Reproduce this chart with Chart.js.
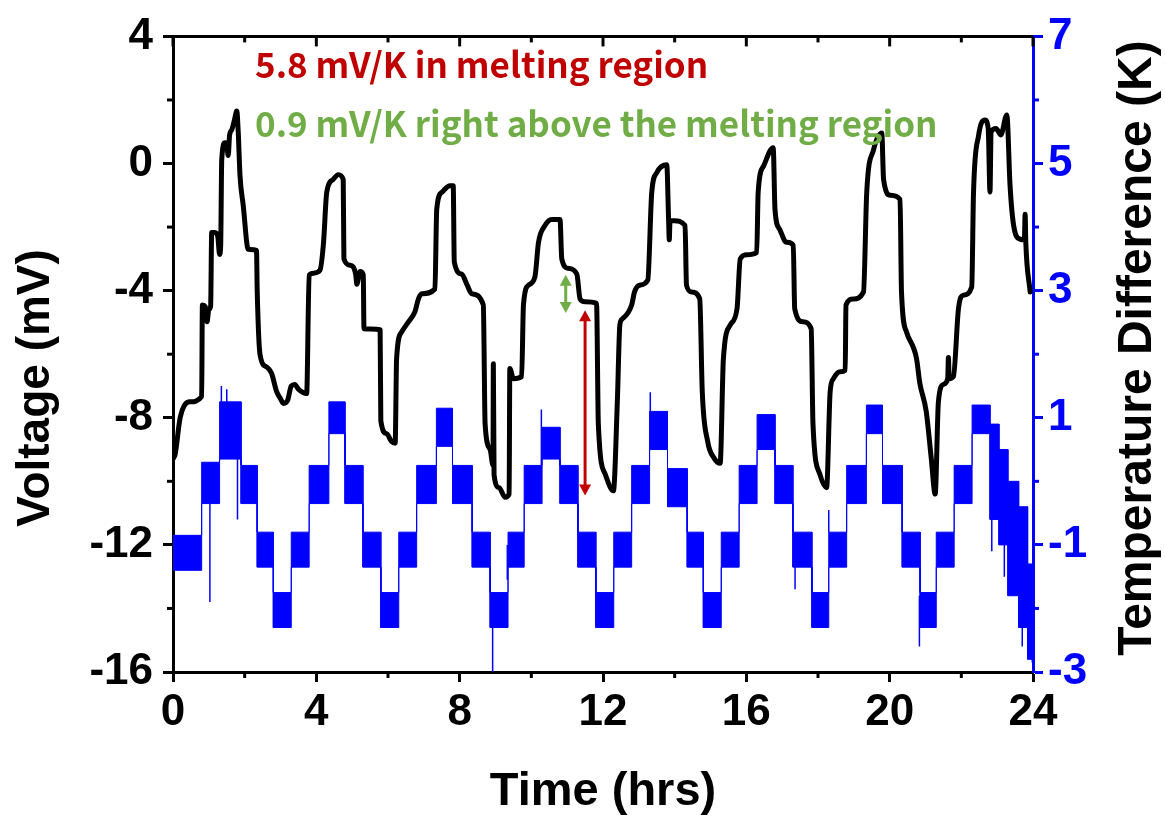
<!DOCTYPE html>
<html>
<head>
<meta charset="utf-8">
<script src="https://cdn.jsdelivr.net/npm/chart.js@4.4.1/dist/chart.umd.min.js"></script>
<style>
  html, body { margin: 0; padding: 0; background: #fff; }
  #wrap { width: 1165px; height: 820px; }
</style>
</head>
<body>
<div id="wrap"><canvas id="myChart" width="1165" height="820"></canvas></div>
<script>
// Voltage trace (black), time in hours, voltage in mV
var voltTime = [0.00, 0.06, 0.20, 0.47, 0.80, 0.82, 0.90, 0.95, 1.00, 1.05, 1.08, 1.17, 1.25, 1.30, 1.33,
    1.36, 1.45, 1.50, 1.54, 1.58, 1.64, 1.72, 1.78, 1.82, 1.87, 1.96, 2.10, 2.33, 2.35, 2.43, 2.61, 2.75,
    2.89, 3.00, 3.08, 3.20, 3.30, 3.40, 3.50, 3.73, 3.80, 3.92, 4.10, 4.20, 4.29, 4.47, 4.61, 4.75, 4.77,
    4.94, 5.10, 5.13, 5.22, 5.31, 5.33, 5.78, 5.80, 5.96, 6.10, 6.20, 6.24, 6.38, 6.57, 6.75, 6.85, 6.94,
    7.31, 7.36, 7.50, 7.73, 7.82, 7.85, 8.06, 8.20, 8.34, 8.66, 8.71, 8.85, 8.93, 8.94, 8.96, 9.10, 9.27,
    9.38, 9.40, 9.50, 9.73, 9.78, 9.92, 10.10, 10.20, 10.38, 10.57, 10.80, 10.85, 11.03, 11.27, 11.36,
    11.50, 11.82, 11.87, 12.06, 12.29, 12.40, 12.47, 12.53, 12.80, 12.88, 13.02, 13.25, 13.36, 13.50,
    13.78, 13.83, 13.85, 13.87, 13.99, 14.29, 14.33, 14.47, 14.70, 14.77, 14.92, 15.10, 15.27, 15.36,
    15.55, 15.74, 15.83, 16.02, 16.29, 16.33, 16.48, 16.75, 16.80, 16.93, 17.12, 17.31, 17.35, 17.58,
    17.81, 17.86, 18.05, 18.24, 18.34, 18.43, 18.62, 18.76, 18.78, 18.99, 19.27, 19.36, 19.55, 19.78,
    19.83, 20.02, 20.29, 20.33, 20.47, 20.75, 20.84, 21.02, 21.16, 21.27, 21.36, 21.50, 21.62, 21.64,
    21.66, 21.78, 21.92, 22.06, 22.29, 22.34, 22.48, 22.66, 22.75, 22.80, 22.83, 22.97, 23.10, 23.27,
    23.36, 23.46, 23.64, 23.76, 23.78, 23.80, 23.92];
var voltValue = [-9.30, -9.15, -8.00, -7.50, -7.33, -4.45, -4.50, -4.98, -4.60, -4.50, -2.17, -2.17, -2.30, -2.86, -2.60,
    0.12, 0.65, 0.60, 0.25, 0.90, 1.06, 1.40, 1.65, 1.00, -0.38, -1.32, -2.70, -2.73, -4.00, -6.02, -6.40, -6.60,
    -7.17, -7.40, -7.55, -7.45, -7.00, -6.95, -7.10, -7.24, -3.51, -3.45, -3.36, -2.50, -0.91, -0.50, -0.35, -0.50, -3.00,
    -3.20, -3.50, -3.80, -3.40, -3.50, -5.20, -5.23, -8.10, -8.50, -8.75, -8.80, -6.14, -5.30, -4.98, -4.67, -4.26, -4.10,
    -3.95, -1.45, -0.91, -0.70, -0.70, -3.10, -3.48, -3.80, -4.10, -4.45, -8.20, -9.00, -9.50, -6.30, -9.80, -10.20, -10.50,
    -10.40, -6.45, -6.77, -6.70, -4.45, -3.83, -3.57, -2.48, -1.95, -1.76, -1.76, -3.00, -3.30, -3.48, -4.26,
    -4.35, -4.40, -8.20, -9.77, -10.30, -7.50, -5.08, -4.90, -4.45, -4.04, -3.83, -3.67, -0.91, -0.29,
    -0.04, -1.76, -2.40, -1.80, -1.80, -1.95, -3.83, -4.04, -4.26, -7.17, -8.74, -9.27, -9.43, -6.14,
    -5.08, -4.57, -3.00, -2.87, -2.80, -0.91, -0.08, 0.50, -1.45, -2.07, -2.48, -2.57, -4.57, -4.98,
    -5.20, -8.20, -9.77, -10.20, -7.17, -6.77, -6.55, -6.50, -4.45, -4.26, -4.04, -0.91, 0.43, 0.96,
    -0.50, -1.00, -1.13, -4.04, -5.30, -6.14, -6.90, -7.80, -9.27, -10.40, -7.50, -6.95, -6.77, -6.10,
    -6.77, -6.70, -4.57, -4.14, -3.89, -0.91, 0.87, 1.37, 1.10, -0.90, 1.00, 1.10, 0.90, 1.53,
    -0.70, -1.95, -2.38, -2.40, -1.60, -2.50, -4.04];

// Temperature difference plateaus (blue band): start/end in hours, upper/lower edge in K
var tempStart = [0.00, 0.80, 1.30, 1.90, 2.35, 2.80, 3.30, 3.80, 4.35, 4.80, 5.30, 5.80, 6.30, 6.80, 7.35, 7.80,
    8.35, 8.85, 9.35, 9.80, 10.30, 10.80, 11.30, 11.80, 12.30, 12.80, 13.30, 13.80, 14.35, 14.80, 15.30, 15.80,
    16.30, 16.80, 17.30, 17.83, 18.30, 18.80, 19.35, 19.80, 20.35, 20.85, 21.30, 21.80, 22.30, 22.80, 23.05,
    23.30, 23.60, 23.85];
var tempEnd = [0.80, 1.30, 1.90, 2.35, 2.80, 3.30, 3.80, 4.35, 4.80, 5.30, 5.80, 6.30, 6.80, 7.35, 7.80, 8.35,
    8.85, 9.35, 9.80, 10.30, 10.80, 11.30, 11.80, 12.30, 12.80, 13.30, 13.80, 14.35, 14.80, 15.30, 15.80, 16.30,
    16.80, 17.30, 17.83, 18.30, 18.80, 19.35, 19.80, 20.35, 20.85, 21.30, 21.80, 22.30, 22.80, 23.05, 23.30,
    23.60, 23.85, 24.00];
var tempHigh = [-0.85, 0.30, 1.25, 0.25, -0.80, -1.75, -0.80, 0.25, 1.25, 0.25, -0.80, -1.75, -0.80, 0.25, 1.15, 0.25,
    -0.80, -1.75, -0.80, 0.25, 0.85, 0.25, -0.80, -1.75, -0.80, 0.25, 1.10, 0.20, -0.80, -1.75, -0.80, 0.25,
    1.05, 0.25, -0.80, -1.75, -0.80, 0.25, 1.20, 0.25, -0.80, -1.75, -0.80, 0.25, 1.20, 0.90, 0.50,
    0.00, -0.40, -1.30];
var tempLow = [-1.40, -0.35, 0.35, -0.35, -1.35, -2.30, -1.35, -0.35, 0.75, -0.35, -1.35, -2.30, -1.35, -0.35, 0.55, -0.35,
    -1.35, -2.30, -1.35, -0.35, 0.35, -0.35, -1.35, -2.30, -1.35, -0.35, 0.50, -0.40, -1.35, -2.30, -1.35, -0.35,
    0.50, -0.35, -1.35, -2.30, -1.35, -0.35, 0.75, -0.35, -1.35, -2.30, -1.35, -0.35, 0.75, -0.60, -1.00,
    -1.80, -2.30, -2.80];

// Isolated spikes in the temperature trace
var spikeTime = [1.03, 1.35, 1.50, 1.80, 8.92, 9.33, 10.28, 13.32, 17.36, 18.30, 20.83, 22.85, 23.20, 23.70, 23.98];
var spikeFrom = [-0.30, 1.00, 1.00, 0.40, -2.00, -1.00, 0.20, 1.00, -1.30, -0.80, -1.80, -0.50, -0.90, -2.00, -2.40];
var spikeTo = [-1.90, 1.50, 1.45, -0.60, -3.00, -1.55, 1.13, 1.40, -1.70, -0.45, -2.60, -1.10, -1.50, -2.60, -2.85];

// Axis ticks
var timeTicks = [0, 4, 8, 12, 16, 20, 24];
var timeMinor = [2, 6, 10, 14, 18, 22];
var voltTicks = [4, 0, -4, -8, -12, -16];
var voltMinor = [2, -2, -6, -10, -14];
var tempTicks = [7, 5, 3, 1, -1, -3];
var tempMinor = [6, 4, 2, 0, -2];

// Annotations
var noteText = ['5.8 mV/K in melting region', '0.9 mV/K right above the melting region'];
var arrowTime = [11.5, 10.96];
var arrowTop = [-4.62, -3.5];
var arrowBottom = [-10.45, -4.7];

var BLUE = '#0000ff';
var RED = '#c00000';
var GREEN = '#70ad47';
var FONT = '"Liberation Sans", Arial, sans-serif';

var voltPts = voltTime.map(function(t, i) { return { x: t, y: voltValue[i] }; });
var upperPts = [], lowerPts = [];
tempStart.forEach(function(t, i) {
    upperPts.push({ x: t, y: tempHigh[i] }, { x: tempEnd[i], y: tempHigh[i] });
    lowerPts.push({ x: t, y: tempLow[i] }, { x: tempEnd[i], y: tempLow[i] });
});
var spikePts = [];
spikeTime.forEach(function(t, i) {
    spikePts.push({ x: t, y: spikeFrom[i] }, { x: t, y: spikeTo[i] }, { x: t, y: null });
});

function tick(ctx, x1, y1, x2, y2) {
    ctx.beginPath(); ctx.moveTo(x1, y1); ctx.lineTo(x2, y2); ctx.stroke();
}

function arrow(ctx, x, y1, y2, color) {
    var h = 11, w = 6;
    ctx.strokeStyle = color; ctx.fillStyle = color; ctx.lineWidth = 3;
    tick(ctx, x, y1 + h - 1, x, y2 - h + 1);
    ctx.beginPath(); ctx.moveTo(x, y1); ctx.lineTo(x - w, y1 + h); ctx.lineTo(x + w, y1 + h); ctx.closePath(); ctx.fill();
    ctx.beginPath(); ctx.moveTo(x, y2); ctx.lineTo(x - w, y2 - h); ctx.lineTo(x + w, y2 - h); ctx.closePath(); ctx.fill();
}

function sideTitle(ctx, text, x, y, size) {
    ctx.save();
    ctx.fillStyle = '#000';
    ctx.font = 'bold ' + size + 'px ' + FONT;
    ctx.textAlign = 'center'; ctx.textBaseline = 'alphabetic';
    ctx.translate(x, y);
    ctx.rotate(-Math.PI / 2);
    ctx.fillText(text, 0, 0);
    ctx.restore();
}

// frame, minor ticks, side titles and notes
var extras = {
    id: 'extras',
    afterDraw: function(chart) {
        var ctx = chart.ctx, a = chart.chartArea;
        var sx = chart.scales.x, sy = chart.scales.y, sy2 = chart.scales.y2;
        ctx.save();
        ctx.lineCap = 'butt';
        ctx.strokeStyle = '#000'; ctx.lineWidth = 3;
        tick(ctx, a.left - 1.5, a.top, a.right, a.top);
        timeTicks.forEach(function(t) { var x = sx.getPixelForValue(t); tick(ctx, x, a.top, x, a.top + 10); });
        timeMinor.forEach(function(t) {
            var x = sx.getPixelForValue(t);
            tick(ctx, x, a.top, x, a.top + 6);
            tick(ctx, x, a.bottom, x, a.bottom + 6);
        });
        voltMinor.forEach(function(v) { var y = sy.getPixelForValue(v); tick(ctx, a.left, y, a.left - 6, y); });
        ctx.strokeStyle = BLUE;
        tempMinor.forEach(function(v) { var y = sy2.getPixelForValue(v); tick(ctx, a.right, y, a.right + 6, y); });
        ctx.restore();

        sideTitle(ctx, 'Voltage (mV)', 49, 388, 46);
        sideTitle(ctx, 'Temperature Difference (K)', 1151, 348, 48);

        ctx.save();
        ctx.font = 'bold 35px "Noto Sans CJK KR", "Noto Sans", sans-serif';
        ctx.textAlign = 'left'; ctx.textBaseline = 'alphabetic';
        ctx.fillStyle = RED;
        ctx.fillText(noteText[0], 255, 78);
        ctx.fillStyle = GREEN;
        ctx.fillText(noteText[1], 255, 137);
        arrow(ctx, sx.getPixelForValue(arrowTime[0]), sy.getPixelForValue(arrowTop[0]), sy.getPixelForValue(arrowBottom[0]), RED);
        arrow(ctx, sx.getPixelForValue(arrowTime[1]), sy.getPixelForValue(arrowTop[1]), sy.getPixelForValue(arrowBottom[1]), GREEN);
        ctx.restore();
    }
};

var ctx = document.getElementById('myChart').getContext('2d');
var myChart = new Chart(ctx, {
    type: 'scatter',
    data: {
        datasets: [{
            label: 'Voltage',
            data: voltPts,
            yAxisID: 'y',
            showLine: true,
            borderColor: '#000',
            borderWidth: 5,
            pointRadius: 0,
            cubicInterpolationMode: 'monotone',
            borderJoinStyle: 'round',
            borderCapStyle: 'round'
        }, {
            label: 'dT upper',
            data: upperPts,
            yAxisID: 'y2',
            showLine: true,
            borderColor: BLUE,
            borderWidth: 1,
            pointRadius: 0,
            fill: false
        }, {
            label: 'dT lower',
            data: lowerPts,
            yAxisID: 'y2',
            showLine: true,
            borderColor: BLUE,
            backgroundColor: BLUE,
            borderWidth: 1,
            pointRadius: 0,
            fill: '-1'
        }, {
            label: 'dT spikes',
            data: spikePts,
            yAxisID: 'y2',
            showLine: true,
            spanGaps: false,
            borderColor: BLUE,
            borderWidth: 1.5,
            pointRadius: 0
        }]
    },
    options: {
        responsive: false,
        animation: false,
        layout: { padding: { top: 33, left: 0, right: 0, bottom: 0 } },
        plugins: {
            legend: { display: false },
            tooltip: { enabled: false }
        },
        scales: {
            x: {
                type: 'linear',
                position: 'bottom',
                min: 0, max: 24,
                afterBuildTicks: function(s) { s.ticks = timeTicks.map(function(v) { return { value: v }; }); },
                afterFit: function(s) { s.height = 148; },
                ticks: { color: '#000', padding: 4, maxRotation: 0, font: { family: FONT, size: 44, weight: 'bold' } },
                grid: { drawOnChartArea: false, tickLength: 10, tickWidth: 3, tickColor: '#000' },
                border: { color: '#000', width: 3 },
                title: { display: true, text: 'Time (hrs)', color: '#000', padding: { top: 0, bottom: 0 },
                    font: { family: FONT, size: 47, weight: 'bold' } }
            },
            y: {
                position: 'left',
                min: -16, max: 4,
                afterBuildTicks: function(s) { s.ticks = voltTicks.map(function(v) { return { value: v }; }); },
                afterFit: function(s) { s.width = 173; },
                ticks: { color: '#000', padding: 10, font: { family: FONT, size: 44, weight: 'bold' } },
                grid: { drawOnChartArea: false, tickLength: 10, tickWidth: 3, tickColor: '#000' },
                border: { color: '#000', width: 3 }
            },
            y2: {
                position: 'right',
                min: -3, max: 7,
                afterBuildTicks: function(s) { s.ticks = tempTicks.map(function(v) { return { value: v }; }); },
                afterFit: function(s) { s.width = 132; },
                ticks: { color: BLUE, padding: 5, font: { family: FONT, size: 44, weight: 'bold' } },
                grid: { drawOnChartArea: false, tickLength: 10, tickWidth: 3, tickColor: BLUE },
                border: { color: BLUE, width: 3 }
            }
        }
    },
    plugins: [extras]
});
</script>
</body>
</html>
